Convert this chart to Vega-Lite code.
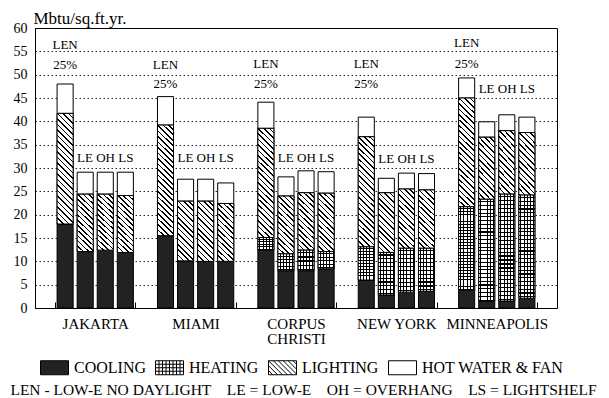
{
  "$schema": "https://vega.github.io/schema/vega-lite/v6.json",
  "width": 522,
  "height": 280,
  "autosize": {"type": "none"},
  "padding": {"left": 35, "top": 28, "right": 52, "bottom": 90},
  "background": "white",
  "config": {
    "font": "Liberation Serif, serif",
    "view": {"stroke": "black", "strokeWidth": 1},
    "axis": {"labelColor": "black", "titleColor": "black", "domainColor": "black", "tickColor": "black"}
  },
  "datasets": {
    "energy": [
      {"city": "JAKARTA", "cfg": "LEN", "type": "COOLING", "v": 18.0},
      {"city": "JAKARTA", "cfg": "LEN", "type": "LIGHTING", "v": 23.7},
      {"city": "JAKARTA", "cfg": "LEN", "type": "HOT WATER & FAN", "v": 6.3},
      {"city": "JAKARTA", "cfg": "LE", "type": "COOLING", "v": 12.1},
      {"city": "JAKARTA", "cfg": "LE", "type": "LIGHTING", "v": 12.3},
      {"city": "JAKARTA", "cfg": "LE", "type": "HOT WATER & FAN", "v": 4.7},
      {"city": "JAKARTA", "cfg": "OH", "type": "COOLING", "v": 12.4},
      {"city": "JAKARTA", "cfg": "OH", "type": "LIGHTING", "v": 12.0},
      {"city": "JAKARTA", "cfg": "OH", "type": "HOT WATER & FAN", "v": 4.7},
      {"city": "JAKARTA", "cfg": "LS", "type": "COOLING", "v": 11.9},
      {"city": "JAKARTA", "cfg": "LS", "type": "LIGHTING", "v": 12.2},
      {"city": "JAKARTA", "cfg": "LS", "type": "HOT WATER & FAN", "v": 5.0},
      {"city": "MIAMI", "cfg": "LEN", "type": "COOLING", "v": 15.5},
      {"city": "MIAMI", "cfg": "LEN", "type": "LIGHTING", "v": 23.7},
      {"city": "MIAMI", "cfg": "LEN", "type": "HOT WATER & FAN", "v": 6.1},
      {"city": "MIAMI", "cfg": "LE", "type": "COOLING", "v": 10.1},
      {"city": "MIAMI", "cfg": "LE", "type": "LIGHTING", "v": 12.8},
      {"city": "MIAMI", "cfg": "LE", "type": "HOT WATER & FAN", "v": 4.7},
      {"city": "MIAMI", "cfg": "OH", "type": "COOLING", "v": 10.0},
      {"city": "MIAMI", "cfg": "OH", "type": "LIGHTING", "v": 12.9},
      {"city": "MIAMI", "cfg": "OH", "type": "HOT WATER & FAN", "v": 4.7},
      {"city": "MIAMI", "cfg": "LS", "type": "COOLING", "v": 10.0},
      {"city": "MIAMI", "cfg": "LS", "type": "LIGHTING", "v": 12.4},
      {"city": "MIAMI", "cfg": "LS", "type": "HOT WATER & FAN", "v": 4.4},
      {"city": "CORPUS CHRISTI", "cfg": "LEN", "type": "COOLING", "v": 12.4},
      {"city": "CORPUS CHRISTI", "cfg": "LEN", "type": "HEATING", "v": 2.7},
      {"city": "CORPUS CHRISTI", "cfg": "LEN", "type": "LIGHTING", "v": 23.4},
      {"city": "CORPUS CHRISTI", "cfg": "LEN", "type": "HOT WATER & FAN", "v": 5.6},
      {"city": "CORPUS CHRISTI", "cfg": "LE", "type": "COOLING", "v": 8.0},
      {"city": "CORPUS CHRISTI", "cfg": "LE", "type": "HEATING", "v": 3.6},
      {"city": "CORPUS CHRISTI", "cfg": "LE", "type": "LIGHTING", "v": 12.4},
      {"city": "CORPUS CHRISTI", "cfg": "LE", "type": "HOT WATER & FAN", "v": 4.1},
      {"city": "CORPUS CHRISTI", "cfg": "OH", "type": "COOLING", "v": 8.0},
      {"city": "CORPUS CHRISTI", "cfg": "OH", "type": "HEATING", "v": 4.4},
      {"city": "CORPUS CHRISTI", "cfg": "OH", "type": "LIGHTING", "v": 12.3},
      {"city": "CORPUS CHRISTI", "cfg": "OH", "type": "HOT WATER & FAN", "v": 4.7},
      {"city": "CORPUS CHRISTI", "cfg": "LS", "type": "COOLING", "v": 8.4},
      {"city": "CORPUS CHRISTI", "cfg": "LS", "type": "HEATING", "v": 3.7},
      {"city": "CORPUS CHRISTI", "cfg": "LS", "type": "LIGHTING", "v": 12.5},
      {"city": "CORPUS CHRISTI", "cfg": "LS", "type": "HOT WATER & FAN", "v": 4.6},
      {"city": "NEW YORK", "cfg": "LEN", "type": "COOLING", "v": 6.0},
      {"city": "NEW YORK", "cfg": "LEN", "type": "HEATING", "v": 7.1},
      {"city": "NEW YORK", "cfg": "LEN", "type": "LIGHTING", "v": 23.6},
      {"city": "NEW YORK", "cfg": "LEN", "type": "HOT WATER & FAN", "v": 4.2},
      {"city": "NEW YORK", "cfg": "LE", "type": "COOLING", "v": 2.8},
      {"city": "NEW YORK", "cfg": "LE", "type": "HEATING", "v": 9.1},
      {"city": "NEW YORK", "cfg": "LE", "type": "LIGHTING", "v": 12.8},
      {"city": "NEW YORK", "cfg": "LE", "type": "HOT WATER & FAN", "v": 3.1},
      {"city": "NEW YORK", "cfg": "OH", "type": "COOLING", "v": 3.4},
      {"city": "NEW YORK", "cfg": "OH", "type": "HEATING", "v": 9.4},
      {"city": "NEW YORK", "cfg": "OH", "type": "LIGHTING", "v": 12.7},
      {"city": "NEW YORK", "cfg": "OH", "type": "HOT WATER & FAN", "v": 3.4},
      {"city": "NEW YORK", "cfg": "LS", "type": "COOLING", "v": 3.6},
      {"city": "NEW YORK", "cfg": "LS", "type": "HEATING", "v": 9.2},
      {"city": "NEW YORK", "cfg": "LS", "type": "LIGHTING", "v": 12.5},
      {"city": "NEW YORK", "cfg": "LS", "type": "HOT WATER & FAN", "v": 3.5},
      {"city": "MINNEAPOLIS", "cfg": "LEN", "type": "COOLING", "v": 3.8},
      {"city": "MINNEAPOLIS", "cfg": "LEN", "type": "HEATING", "v": 17.9},
      {"city": "MINNEAPOLIS", "cfg": "LEN", "type": "LIGHTING", "v": 23.3},
      {"city": "MINNEAPOLIS", "cfg": "LEN", "type": "HOT WATER & FAN", "v": 4.3},
      {"city": "MINNEAPOLIS", "cfg": "LE", "type": "COOLING", "v": 1.4},
      {"city": "MINNEAPOLIS", "cfg": "LE", "type": "HEATING", "v": 21.9},
      {"city": "MINNEAPOLIS", "cfg": "LE", "type": "LIGHTING", "v": 13.3},
      {"city": "MINNEAPOLIS", "cfg": "LE", "type": "HOT WATER & FAN", "v": 3.3},
      {"city": "MINNEAPOLIS", "cfg": "OH", "type": "COOLING", "v": 1.5},
      {"city": "MINNEAPOLIS", "cfg": "OH", "type": "HEATING", "v": 22.9},
      {"city": "MINNEAPOLIS", "cfg": "OH", "type": "LIGHTING", "v": 13.6},
      {"city": "MINNEAPOLIS", "cfg": "OH", "type": "HOT WATER & FAN", "v": 3.4},
      {"city": "MINNEAPOLIS", "cfg": "LS", "type": "COOLING", "v": 2.1},
      {"city": "MINNEAPOLIS", "cfg": "LS", "type": "HEATING", "v": 22.1},
      {"city": "MINNEAPOLIS", "cfg": "LS", "type": "LIGHTING", "v": 13.4},
      {"city": "MINNEAPOLIS", "cfg": "LS", "type": "HOT WATER & FAN", "v": 3.3}
    ],
    "notes": [
      {"city": "JAKARTA", "cfg": "LEN", "label": "LEN", "y0": 56.4},
      {"city": "JAKARTA", "cfg": "LEN", "label": "25%", "y0": 52.1},
      {"city": "JAKARTA", "cfg": "OH", "label": "LE OH LS", "y0": 32.1},
      {"city": "MIAMI", "cfg": "LEN", "label": "LEN", "y0": 52.1},
      {"city": "MIAMI", "cfg": "LEN", "label": "25%", "y0": 48.0},
      {"city": "MIAMI", "cfg": "OH", "label": "LE OH LS", "y0": 32.1},
      {"city": "CORPUS CHRISTI", "cfg": "LEN", "label": "LEN", "y0": 52.3},
      {"city": "CORPUS CHRISTI", "cfg": "LEN", "label": "25%", "y0": 47.9},
      {"city": "CORPUS CHRISTI", "cfg": "OH", "label": "LE OH LS", "y0": 32.1},
      {"city": "NEW YORK", "cfg": "LEN", "label": "LEN", "y0": 52.3},
      {"city": "NEW YORK", "cfg": "LEN", "label": "25%", "y0": 47.9},
      {"city": "NEW YORK", "cfg": "OH", "label": "LE OH LS", "y0": 32.0},
      {"city": "MINNEAPOLIS", "cfg": "LEN", "label": "LEN", "y0": 56.8},
      {"city": "MINNEAPOLIS", "cfg": "LEN", "label": "25%", "y0": 52.3},
      {"city": "MINNEAPOLIS", "cfg": "OH", "label": "LE OH LS", "y0": 46.9}
    ]
  },
  "encoding": {
    "x": {
      "field": "city", "type": "nominal",
      "sort": ["JAKARTA", "MIAMI", "CORPUS CHRISTI", "NEW YORK", "MINNEAPOLIS"],
      "scale": {"paddingInner": 0.2, "paddingOuter": 0.2},
      "axis": {
        "labelAngle": 0, "labelFontSize": 15, "labelPadding": 14, "labelLineHeight": 15,
        "labelExpr": "datum.label == 'CORPUS CHRISTI' ? ['CORPUS', 'CHRISTI'] : datum.label",
        "tickBand": "extent", "tickSize": -6, "domain": true,
        "title": "LEN - LOW-E NO DAYLIGHT\u00a0\u00a0\u00a0 LE = LOW-E\u00a0\u00a0\u00a0 OH = OVERHANG\u00a0\u00a0\u00a0 LS = LIGHTSHELF",
        "titleFontSize": 15.5, "titleFontWeight": "normal", "titleX": 268, "titleY": 86,
        "titleAlign": "center", "titleBaseline": "alphabetic"
      }
    },
    "xOffset": {
      "field": "cfg", "type": "nominal",
      "sort": ["LEN", "LE", "OH", "LS"],
      "scale": {"domain": ["LEN", "LE", "OH", "LS"], "paddingInner": 0.2, "paddingOuter": 0.1}
    },
    "y": {
      "field": "y0", "type": "quantitative",
      "scale": {"domain": [0, 60], "nice": false},
      "axis": {
        "values": [0, 5, 10, 15, 20, 25, 30, 35, 40, 45, 50, 55, 60],
        "labelFontSize": 14, "labelPadding": 8, "ticks": false, "domain": true,
        "grid": true, "gridColor": "black", "gridDash": [1.5, 2.5], "gridWidth": 1, "gridOpacity": 0.85,
        "title": "Mbtu/sq.ft.yr.", "titleAngle": 0, "titleAlign": "left", "titleBaseline": "alphabetic",
        "titleX": -2, "titleY": -5, "titleFontSize": 17, "titleFontWeight": "normal"
      }
    }
  },
  "layer": [
    {
      "data": {"name": "energy"},
      "transform": [
        {"calculate": "indexof(['COOLING', 'HEATING', 'LIGHTING', 'HOT WATER & FAN'], datum.type)", "as": "k"},
        {"stack": "v", "groupby": ["city", "cfg"], "sort": [{"field": "k", "order": "ascending"}], "as": ["y0", "y1"]}
      ],
      "mark": {"type": "bar", "stroke": "black", "strokeWidth": 1},
      "encoding": {
        "y2": {"field": "y1"},
        "fill": {
          "field": "type", "type": "nominal",
          "scale": {"domain": ["COOLING", "HEATING", "LIGHTING", "HOT WATER & FAN"], "range": ["#222222", "#ffffff", "#ffffff", "#ffffff"]},
          "legend": {
            "orient": "none", "legendX": 5, "legendY": 325, "direction": "horizontal", "title": null,
            "symbolSize": 784, "symbolStrokeColor": "black", "symbolStrokeWidth": 1, "symbolOpacity": 1,
            "labelFontSize": 16, "labelColor": "black", "labelOffset": 5, "columnPadding": 7, "labelLimit": 300
          }
        }
      }
    },
    {
      "data": {"name": "energy"},
      "transform": [{"filter": "datum.v < 0"}],
      "mark": {"type": "point", "filled": false},
      "encoding": {
        "shape": {
          "field": "type", "type": "nominal",
          "scale": {"domain": ["COOLING", "HEATING", "LIGHTING", "HOT WATER & FAN"], "range": [
            "M-1,-0.5H1V0.5H-1Z",
            "M-1,-0.5H1V0.5H-1Z M-0.75,-0.5V0.5 M-0.5,-0.5V0.5 M-0.25,-0.5V0.5 M0,-0.5V0.5 M0.25,-0.5V0.5 M0.5,-0.5V0.5 M0.75,-0.5V0.5 M-1,-0.25H1 M-1,0H1 M-1,0.25H1",
            "M-1,-0.5H1V0.5H-1Z M-1,0.2L-0.7,0.5 M-1,-0.15L-0.35,0.5 M-1,-0.5L0,0.5 M-0.65,-0.5L0.35,0.5 M-0.3,-0.5L0.7,0.5 M0.05,-0.5L1,0.45 M0.4,-0.5L1,0.1 M0.75,-0.5L1,-0.25",
            "M-1,-0.5H1V0.5H-1Z"
          ]},
          "legend": {
            "orient": "none", "legendX": 5, "legendY": 325, "direction": "horizontal", "title": null,
            "symbolSize": 784, "symbolStrokeColor": "black", "symbolStrokeWidth": 1, "symbolOpacity": 1,
            "labelFontSize": 16, "labelColor": "black", "labelOffset": 5, "columnPadding": 7, "labelLimit": 300
          }
        }
      }
    },
    {
      "data": {"name": "energy"},
      "transform": [
        {"calculate": "indexof(['COOLING', 'HEATING', 'LIGHTING', 'HOT WATER & FAN'], datum.type)", "as": "k"},
        {"stack": "v", "groupby": ["city", "cfg"], "sort": [{"field": "k", "order": "ascending"}], "as": ["y0", "y1"]},
        {"filter": "datum.type === 'LIGHTING'"}
      ],
      "mark": {"type": "bar", "stroke": "black", "strokeWidth": 1},
      "encoding": {
        "y2": {"field": "y1"},
        "fill": {
          "condition": {"test": "datum.v > 18", "value": {"gradient": "linear", "x1": 0, "y1": 1, "x2": 0.16, "y2": -0.12, "stops": [
            {"offset": 0, "color": "#fff"}, {"offset": 0, "color": "#000"}, {"offset": 0.013, "color": "#000"}, {"offset": 0.013, "color": "#fff"},
            {"offset": 0.0435, "color": "#fff"}, {"offset": 0.0435, "color": "#000"}, {"offset": 0.0565, "color": "#000"}, {"offset": 0.0565, "color": "#fff"},
            {"offset": 0.087, "color": "#fff"}, {"offset": 0.087, "color": "#000"}, {"offset": 0.1, "color": "#000"}, {"offset": 0.1, "color": "#fff"},
            {"offset": 0.1304, "color": "#fff"}, {"offset": 0.1304, "color": "#000"}, {"offset": 0.1435, "color": "#000"}, {"offset": 0.1435, "color": "#fff"},
            {"offset": 0.1739, "color": "#fff"}, {"offset": 0.1739, "color": "#000"}, {"offset": 0.187, "color": "#000"}, {"offset": 0.187, "color": "#fff"},
            {"offset": 0.2174, "color": "#fff"}, {"offset": 0.2174, "color": "#000"}, {"offset": 0.2304, "color": "#000"}, {"offset": 0.2304, "color": "#fff"},
            {"offset": 0.2609, "color": "#fff"}, {"offset": 0.2609, "color": "#000"}, {"offset": 0.2739, "color": "#000"}, {"offset": 0.2739, "color": "#fff"},
            {"offset": 0.3043, "color": "#fff"}, {"offset": 0.3043, "color": "#000"}, {"offset": 0.3174, "color": "#000"}, {"offset": 0.3174, "color": "#fff"},
            {"offset": 0.3478, "color": "#fff"}, {"offset": 0.3478, "color": "#000"}, {"offset": 0.3609, "color": "#000"}, {"offset": 0.3609, "color": "#fff"},
            {"offset": 0.3913, "color": "#fff"}, {"offset": 0.3913, "color": "#000"}, {"offset": 0.4043, "color": "#000"}, {"offset": 0.4043, "color": "#fff"},
            {"offset": 0.4348, "color": "#fff"}, {"offset": 0.4348, "color": "#000"}, {"offset": 0.4478, "color": "#000"}, {"offset": 0.4478, "color": "#fff"},
            {"offset": 0.4783, "color": "#fff"}, {"offset": 0.4783, "color": "#000"}, {"offset": 0.4913, "color": "#000"}, {"offset": 0.4913, "color": "#fff"},
            {"offset": 0.5217, "color": "#fff"}, {"offset": 0.5217, "color": "#000"}, {"offset": 0.5348, "color": "#000"}, {"offset": 0.5348, "color": "#fff"},
            {"offset": 0.5652, "color": "#fff"}, {"offset": 0.5652, "color": "#000"}, {"offset": 0.5783, "color": "#000"}, {"offset": 0.5783, "color": "#fff"},
            {"offset": 0.6087, "color": "#fff"}, {"offset": 0.6087, "color": "#000"}, {"offset": 0.6217, "color": "#000"}, {"offset": 0.6217, "color": "#fff"},
            {"offset": 0.6522, "color": "#fff"}, {"offset": 0.6522, "color": "#000"}, {"offset": 0.6652, "color": "#000"}, {"offset": 0.6652, "color": "#fff"},
            {"offset": 0.6957, "color": "#fff"}, {"offset": 0.6957, "color": "#000"}, {"offset": 0.7087, "color": "#000"}, {"offset": 0.7087, "color": "#fff"},
            {"offset": 0.7391, "color": "#fff"}, {"offset": 0.7391, "color": "#000"}, {"offset": 0.7522, "color": "#000"}, {"offset": 0.7522, "color": "#fff"},
            {"offset": 0.7826, "color": "#fff"}, {"offset": 0.7826, "color": "#000"}, {"offset": 0.7957, "color": "#000"}, {"offset": 0.7957, "color": "#fff"},
            {"offset": 0.8261, "color": "#fff"}, {"offset": 0.8261, "color": "#000"}, {"offset": 0.8391, "color": "#000"}, {"offset": 0.8391, "color": "#fff"},
            {"offset": 0.8696, "color": "#fff"}, {"offset": 0.8696, "color": "#000"}, {"offset": 0.8826, "color": "#000"}, {"offset": 0.8826, "color": "#fff"},
            {"offset": 0.913, "color": "#fff"}, {"offset": 0.913, "color": "#000"}, {"offset": 0.9261, "color": "#000"}, {"offset": 0.9261, "color": "#fff"},
            {"offset": 0.9565, "color": "#fff"}, {"offset": 0.9565, "color": "#000"}, {"offset": 0.9696, "color": "#000"}, {"offset": 0.9696, "color": "#fff"}
          ]}},
          "value": {"gradient": "linear", "x1": 0, "y1": 1, "x2": 0.315, "y2": -0.18, "stops": [
            {"offset": 0, "color": "#fff"}, {"offset": 0, "color": "#000"}, {"offset": 0.0214, "color": "#000"}, {"offset": 0.0214, "color": "#fff"},
            {"offset": 0.0714, "color": "#fff"}, {"offset": 0.0714, "color": "#000"}, {"offset": 0.0929, "color": "#000"}, {"offset": 0.0929, "color": "#fff"},
            {"offset": 0.1429, "color": "#fff"}, {"offset": 0.1429, "color": "#000"}, {"offset": 0.1643, "color": "#000"}, {"offset": 0.1643, "color": "#fff"},
            {"offset": 0.2143, "color": "#fff"}, {"offset": 0.2143, "color": "#000"}, {"offset": 0.2357, "color": "#000"}, {"offset": 0.2357, "color": "#fff"},
            {"offset": 0.2857, "color": "#fff"}, {"offset": 0.2857, "color": "#000"}, {"offset": 0.3071, "color": "#000"}, {"offset": 0.3071, "color": "#fff"},
            {"offset": 0.3571, "color": "#fff"}, {"offset": 0.3571, "color": "#000"}, {"offset": 0.3786, "color": "#000"}, {"offset": 0.3786, "color": "#fff"},
            {"offset": 0.4286, "color": "#fff"}, {"offset": 0.4286, "color": "#000"}, {"offset": 0.45, "color": "#000"}, {"offset": 0.45, "color": "#fff"},
            {"offset": 0.5, "color": "#fff"}, {"offset": 0.5, "color": "#000"}, {"offset": 0.5214, "color": "#000"}, {"offset": 0.5214, "color": "#fff"},
            {"offset": 0.5714, "color": "#fff"}, {"offset": 0.5714, "color": "#000"}, {"offset": 0.5929, "color": "#000"}, {"offset": 0.5929, "color": "#fff"},
            {"offset": 0.6429, "color": "#fff"}, {"offset": 0.6429, "color": "#000"}, {"offset": 0.6643, "color": "#000"}, {"offset": 0.6643, "color": "#fff"},
            {"offset": 0.7143, "color": "#fff"}, {"offset": 0.7143, "color": "#000"}, {"offset": 0.7357, "color": "#000"}, {"offset": 0.7357, "color": "#fff"},
            {"offset": 0.7857, "color": "#fff"}, {"offset": 0.7857, "color": "#000"}, {"offset": 0.8071, "color": "#000"}, {"offset": 0.8071, "color": "#fff"},
            {"offset": 0.8571, "color": "#fff"}, {"offset": 0.8571, "color": "#000"}, {"offset": 0.8786, "color": "#000"}, {"offset": 0.8786, "color": "#fff"},
            {"offset": 0.9286, "color": "#fff"}, {"offset": 0.9286, "color": "#000"}, {"offset": 0.95, "color": "#000"}, {"offset": 0.95, "color": "#fff"}
          ]}
        }
      }
    },
    {
      "data": {"name": "energy"},
      "transform": [
        {"calculate": "indexof(['COOLING', 'HEATING', 'LIGHTING', 'HOT WATER & FAN'], datum.type)", "as": "k"},
        {"stack": "v", "groupby": ["city", "cfg"], "sort": [{"field": "k", "order": "ascending"}], "as": ["y0", "y1"]},
        {"filter": "datum.type === 'HEATING'"}
      ],
      "mark": {"type": "bar", "strokeWidth": 0},
      "encoding": {
        "y2": {"field": "y1"},
        "fill": {"value": {"gradient": "linear", "x1": 0, "y1": 0, "x2": 1, "y2": 0, "stops": [
          {"offset": 0.1, "color": "#fff"}, {"offset": 0.1, "color": "#000"}, {"offset": 0.16, "color": "#000"}, {"offset": 0.16, "color": "#fff"},
          {"offset": 0.3, "color": "#fff"}, {"offset": 0.3, "color": "#000"}, {"offset": 0.36, "color": "#000"}, {"offset": 0.36, "color": "#fff"},
          {"offset": 0.5, "color": "#fff"}, {"offset": 0.5, "color": "#000"}, {"offset": 0.56, "color": "#000"}, {"offset": 0.56, "color": "#fff"},
          {"offset": 0.7, "color": "#fff"}, {"offset": 0.7, "color": "#000"}, {"offset": 0.76, "color": "#000"}, {"offset": 0.76, "color": "#fff"},
          {"offset": 0.9, "color": "#fff"}, {"offset": 0.9, "color": "#000"}, {"offset": 0.96, "color": "#000"}, {"offset": 0.96, "color": "#fff"}
        ]}}
      }
    },
    {
      "data": {"name": "energy"},
      "transform": [
        {"calculate": "indexof(['COOLING', 'HEATING', 'LIGHTING', 'HOT WATER & FAN'], datum.type)", "as": "k"},
        {"stack": "v", "groupby": ["city", "cfg"], "sort": [{"field": "k", "order": "ascending"}], "as": ["y0", "y1"]},
        {"filter": "datum.type === 'HEATING'"}
      ],
      "mark": {"type": "bar", "stroke": "black", "strokeWidth": 1},
      "encoding": {
        "y2": {"field": "y1"},
        "fill": {
          "condition": [
            {"test": "datum.v < 5", "value": {"gradient": "linear", "x1": 0, "y1": 0, "x2": 0.000001, "y2": 1, "stops": [
              {"offset": 0.1, "color": "rgba(0,0,0,0)"}, {"offset": 0.1, "color": "#000"}, {"offset": 0.16, "color": "#000"}, {"offset": 0.16, "color": "rgba(0,0,0,0)"},
              {"offset": 0.3, "color": "rgba(0,0,0,0)"}, {"offset": 0.3, "color": "#000"}, {"offset": 0.36, "color": "#000"}, {"offset": 0.36, "color": "rgba(0,0,0,0)"},
              {"offset": 0.5, "color": "rgba(0,0,0,0)"}, {"offset": 0.5, "color": "#000"}, {"offset": 0.56, "color": "#000"}, {"offset": 0.56, "color": "rgba(0,0,0,0)"},
              {"offset": 0.7, "color": "rgba(0,0,0,0)"}, {"offset": 0.7, "color": "#000"}, {"offset": 0.76, "color": "#000"}, {"offset": 0.76, "color": "rgba(0,0,0,0)"},
              {"offset": 0.9, "color": "rgba(0,0,0,0)"}, {"offset": 0.9, "color": "#000"}, {"offset": 0.96, "color": "#000"}, {"offset": 0.96, "color": "rgba(0,0,0,0)"}
            ]}},
            {"test": "datum.v < 12", "value": {"gradient": "linear", "x1": 0, "y1": 0, "x2": 0.000001, "y2": 1, "stops": [
              {"offset": 0.045, "color": "rgba(0,0,0,0)"}, {"offset": 0.045, "color": "#000"}, {"offset": 0.072, "color": "#000"}, {"offset": 0.072, "color": "rgba(0,0,0,0)"},
              {"offset": 0.136, "color": "rgba(0,0,0,0)"}, {"offset": 0.136, "color": "#000"}, {"offset": 0.163, "color": "#000"}, {"offset": 0.163, "color": "rgba(0,0,0,0)"},
              {"offset": 0.227, "color": "rgba(0,0,0,0)"}, {"offset": 0.227, "color": "#000"}, {"offset": 0.254, "color": "#000"}, {"offset": 0.254, "color": "rgba(0,0,0,0)"},
              {"offset": 0.318, "color": "rgba(0,0,0,0)"}, {"offset": 0.318, "color": "#000"}, {"offset": 0.345, "color": "#000"}, {"offset": 0.345, "color": "rgba(0,0,0,0)"},
              {"offset": 0.409, "color": "rgba(0,0,0,0)"}, {"offset": 0.409, "color": "#000"}, {"offset": 0.436, "color": "#000"}, {"offset": 0.436, "color": "rgba(0,0,0,0)"},
              {"offset": 0.5, "color": "rgba(0,0,0,0)"}, {"offset": 0.5, "color": "#000"}, {"offset": 0.527, "color": "#000"}, {"offset": 0.527, "color": "rgba(0,0,0,0)"},
              {"offset": 0.591, "color": "rgba(0,0,0,0)"}, {"offset": 0.591, "color": "#000"}, {"offset": 0.618, "color": "#000"}, {"offset": 0.618, "color": "rgba(0,0,0,0)"},
              {"offset": 0.682, "color": "rgba(0,0,0,0)"}, {"offset": 0.682, "color": "#000"}, {"offset": 0.709, "color": "#000"}, {"offset": 0.709, "color": "rgba(0,0,0,0)"},
              {"offset": 0.773, "color": "rgba(0,0,0,0)"}, {"offset": 0.773, "color": "#000"}, {"offset": 0.8, "color": "#000"}, {"offset": 0.8, "color": "rgba(0,0,0,0)"},
              {"offset": 0.864, "color": "rgba(0,0,0,0)"}, {"offset": 0.864, "color": "#000"}, {"offset": 0.891, "color": "#000"}, {"offset": 0.891, "color": "rgba(0,0,0,0)"},
              {"offset": 0.955, "color": "rgba(0,0,0,0)"}, {"offset": 0.955, "color": "#000"}, {"offset": 0.982, "color": "#000"}, {"offset": 0.982, "color": "rgba(0,0,0,0)"}
            ]}}
          ],
          "value": {"gradient": "linear", "x1": 0, "y1": 0, "x2": 0.000001, "y2": 1, "stops": [
            {"offset": 0.0185, "color": "rgba(0,0,0,0)"}, {"offset": 0.0185, "color": "#000"}, {"offset": 0.0295, "color": "#000"}, {"offset": 0.0295, "color": "rgba(0,0,0,0)"},
            {"offset": 0.0556, "color": "rgba(0,0,0,0)"}, {"offset": 0.0556, "color": "#000"}, {"offset": 0.0666, "color": "#000"}, {"offset": 0.0666, "color": "rgba(0,0,0,0)"},
            {"offset": 0.0926, "color": "rgba(0,0,0,0)"}, {"offset": 0.0926, "color": "#000"}, {"offset": 0.1036, "color": "#000"}, {"offset": 0.1036, "color": "rgba(0,0,0,0)"},
            {"offset": 0.1296, "color": "rgba(0,0,0,0)"}, {"offset": 0.1296, "color": "#000"}, {"offset": 0.1406, "color": "#000"}, {"offset": 0.1406, "color": "rgba(0,0,0,0)"},
            {"offset": 0.1667, "color": "rgba(0,0,0,0)"}, {"offset": 0.1667, "color": "#000"}, {"offset": 0.1777, "color": "#000"}, {"offset": 0.1777, "color": "rgba(0,0,0,0)"},
            {"offset": 0.2037, "color": "rgba(0,0,0,0)"}, {"offset": 0.2037, "color": "#000"}, {"offset": 0.2147, "color": "#000"}, {"offset": 0.2147, "color": "rgba(0,0,0,0)"},
            {"offset": 0.2407, "color": "rgba(0,0,0,0)"}, {"offset": 0.2407, "color": "#000"}, {"offset": 0.2517, "color": "#000"}, {"offset": 0.2517, "color": "rgba(0,0,0,0)"},
            {"offset": 0.2778, "color": "rgba(0,0,0,0)"}, {"offset": 0.2778, "color": "#000"}, {"offset": 0.2888, "color": "#000"}, {"offset": 0.2888, "color": "rgba(0,0,0,0)"},
            {"offset": 0.3148, "color": "rgba(0,0,0,0)"}, {"offset": 0.3148, "color": "#000"}, {"offset": 0.3258, "color": "#000"}, {"offset": 0.3258, "color": "rgba(0,0,0,0)"},
            {"offset": 0.3519, "color": "rgba(0,0,0,0)"}, {"offset": 0.3519, "color": "#000"}, {"offset": 0.3629, "color": "#000"}, {"offset": 0.3629, "color": "rgba(0,0,0,0)"},
            {"offset": 0.3889, "color": "rgba(0,0,0,0)"}, {"offset": 0.3889, "color": "#000"}, {"offset": 0.3999, "color": "#000"}, {"offset": 0.3999, "color": "rgba(0,0,0,0)"},
            {"offset": 0.4259, "color": "rgba(0,0,0,0)"}, {"offset": 0.4259, "color": "#000"}, {"offset": 0.4369, "color": "#000"}, {"offset": 0.4369, "color": "rgba(0,0,0,0)"},
            {"offset": 0.463, "color": "rgba(0,0,0,0)"}, {"offset": 0.463, "color": "#000"}, {"offset": 0.474, "color": "#000"}, {"offset": 0.474, "color": "rgba(0,0,0,0)"},
            {"offset": 0.5, "color": "rgba(0,0,0,0)"}, {"offset": 0.5, "color": "#000"}, {"offset": 0.511, "color": "#000"}, {"offset": 0.511, "color": "rgba(0,0,0,0)"},
            {"offset": 0.537, "color": "rgba(0,0,0,0)"}, {"offset": 0.537, "color": "#000"}, {"offset": 0.548, "color": "#000"}, {"offset": 0.548, "color": "rgba(0,0,0,0)"},
            {"offset": 0.5741, "color": "rgba(0,0,0,0)"}, {"offset": 0.5741, "color": "#000"}, {"offset": 0.5851, "color": "#000"}, {"offset": 0.5851, "color": "rgba(0,0,0,0)"},
            {"offset": 0.6111, "color": "rgba(0,0,0,0)"}, {"offset": 0.6111, "color": "#000"}, {"offset": 0.6221, "color": "#000"}, {"offset": 0.6221, "color": "rgba(0,0,0,0)"},
            {"offset": 0.6481, "color": "rgba(0,0,0,0)"}, {"offset": 0.6481, "color": "#000"}, {"offset": 0.6591, "color": "#000"}, {"offset": 0.6591, "color": "rgba(0,0,0,0)"},
            {"offset": 0.6852, "color": "rgba(0,0,0,0)"}, {"offset": 0.6852, "color": "#000"}, {"offset": 0.6962, "color": "#000"}, {"offset": 0.6962, "color": "rgba(0,0,0,0)"},
            {"offset": 0.7222, "color": "rgba(0,0,0,0)"}, {"offset": 0.7222, "color": "#000"}, {"offset": 0.7332, "color": "#000"}, {"offset": 0.7332, "color": "rgba(0,0,0,0)"},
            {"offset": 0.7593, "color": "rgba(0,0,0,0)"}, {"offset": 0.7593, "color": "#000"}, {"offset": 0.7703, "color": "#000"}, {"offset": 0.7703, "color": "rgba(0,0,0,0)"},
            {"offset": 0.7963, "color": "rgba(0,0,0,0)"}, {"offset": 0.7963, "color": "#000"}, {"offset": 0.8073, "color": "#000"}, {"offset": 0.8073, "color": "rgba(0,0,0,0)"},
            {"offset": 0.8333, "color": "rgba(0,0,0,0)"}, {"offset": 0.8333, "color": "#000"}, {"offset": 0.8443, "color": "#000"}, {"offset": 0.8443, "color": "rgba(0,0,0,0)"},
            {"offset": 0.8704, "color": "rgba(0,0,0,0)"}, {"offset": 0.8704, "color": "#000"}, {"offset": 0.8814, "color": "#000"}, {"offset": 0.8814, "color": "rgba(0,0,0,0)"},
            {"offset": 0.9074, "color": "rgba(0,0,0,0)"}, {"offset": 0.9074, "color": "#000"}, {"offset": 0.9184, "color": "#000"}, {"offset": 0.9184, "color": "rgba(0,0,0,0)"},
            {"offset": 0.9444, "color": "rgba(0,0,0,0)"}, {"offset": 0.9444, "color": "#000"}, {"offset": 0.9554, "color": "#000"}, {"offset": 0.9554, "color": "rgba(0,0,0,0)"},
            {"offset": 0.9815, "color": "rgba(0,0,0,0)"}, {"offset": 0.9815, "color": "#000"}, {"offset": 0.9925, "color": "#000"}, {"offset": 0.9925, "color": "rgba(0,0,0,0)"}
          ]}
        }
      }
    },
    {
      "data": {"name": "notes"},
      "mark": {"type": "text", "fontSize": 13, "color": "black", "align": "center", "baseline": "middle"},
      "encoding": {
        "text": {"field": "label"}
      }
    }
  ]
}
